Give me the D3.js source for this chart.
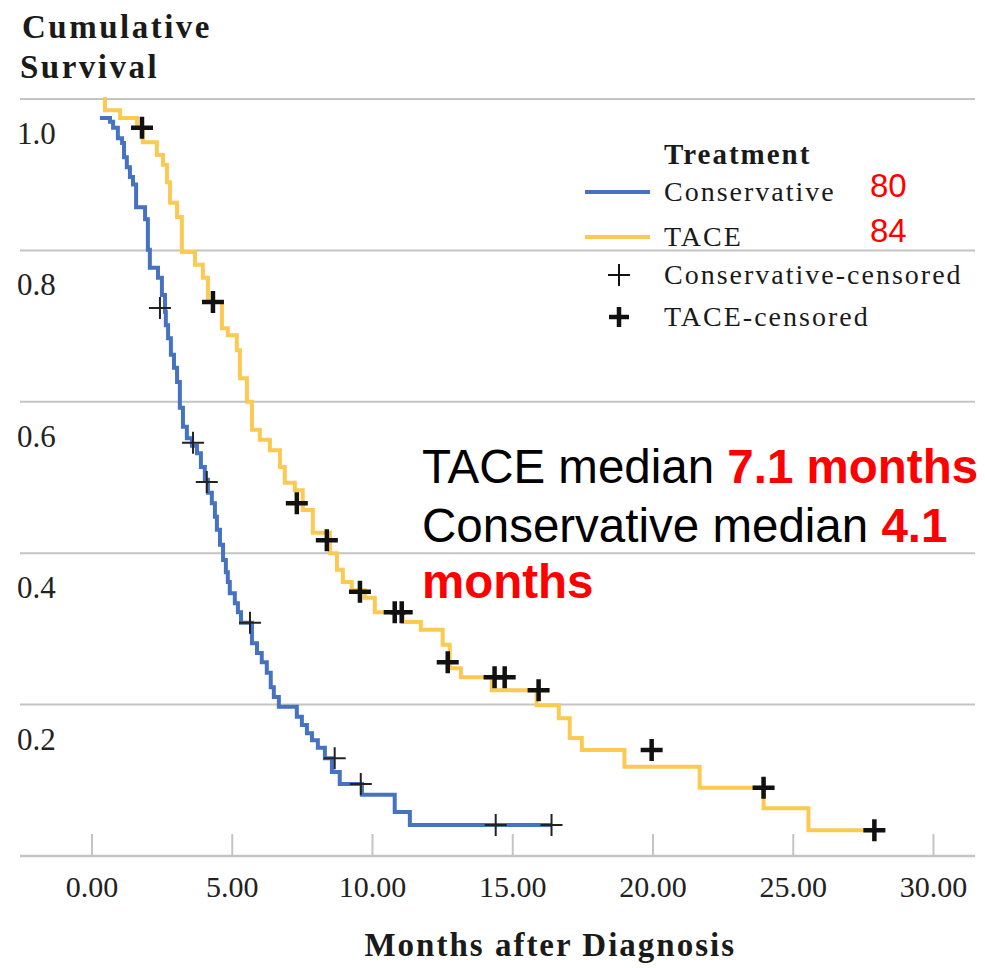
<!DOCTYPE html>
<html>
<head>
<meta charset="utf-8">
<script src="https://cdn.jsdelivr.net/npm/d3@7"></script>
<style>
  body { margin: 0; background: #fff; }
  svg { display: block; }
</style>
</head>
<body>
<div id="chart"></div>
<script>
// Kaplan-Meier steps: [months, survival after the step]
const conservativeSteps = [
    [0.30, 0.975], [0.66, 0.970], [0.77, 0.962], [0.94, 0.948], [1.09, 0.942],
    [1.16, 0.923], [1.26, 0.910], [1.37, 0.897], [1.48, 0.887], [1.59, 0.857],
    [1.91, 0.841], [2.01, 0.801], [2.08, 0.777], [2.37, 0.764], [2.51, 0.741],
    [2.62, 0.719], [2.65, 0.701], [2.73, 0.684], [2.83, 0.662], [2.94, 0.645],
    [3.05, 0.626], [3.15, 0.592], [3.26, 0.567], [3.40, 0.552], [3.58, 0.542],
    [3.76, 0.532], [3.90, 0.514], [4.04, 0.497], [4.15, 0.480], [4.29, 0.466],
    [4.40, 0.448], [4.47, 0.431], [4.58, 0.411], [4.69, 0.391], [4.79, 0.375],
    [4.86, 0.362], [4.93, 0.347], [5.11, 0.334], [5.22, 0.322], [5.33, 0.308],
    [5.72, 0.281], [5.90, 0.268], [6.07, 0.256], [6.25, 0.242], [6.39, 0.223],
    [6.50, 0.210], [6.68, 0.197], [7.32, 0.184], [7.50, 0.173], [7.68, 0.162],
    [7.86, 0.153], [8.07, 0.143], [8.32, 0.129], [8.57, 0.111], [8.85, 0.095],
    [9.64, 0.081], [10.81, 0.058], [11.35, 0.041], [16.40, 0.041]
];

const taceSteps = [
    [0.41, 1.000], [0.48, 0.985], [1.02, 0.975], [1.62, 0.962], [1.83, 0.943],
    [2.33, 0.926], [2.55, 0.913], [2.69, 0.890], [2.80, 0.863], [3.05, 0.844],
    [3.22, 0.798], [3.69, 0.781], [3.97, 0.764], [4.15, 0.732], [4.65, 0.697],
    [4.86, 0.688], [5.18, 0.668], [5.29, 0.631], [5.54, 0.600], [5.72, 0.563],
    [6.00, 0.550], [6.36, 0.536], [6.72, 0.514], [6.89, 0.493], [7.25, 0.483],
    [7.53, 0.457], [7.89, 0.427], [8.50, 0.400], [8.75, 0.378], [8.96, 0.362],
    [9.28, 0.351], [9.74, 0.341], [10.10, 0.322], [11.10, 0.309], [11.74, 0.299],
    [12.52, 0.279], [12.77, 0.248], [13.17, 0.236], [14.27, 0.219], [15.87, 0.199],
    [16.66, 0.182], [17.05, 0.156], [17.48, 0.140], [19.00, 0.118], [21.68, 0.090],
    [23.96, 0.063], [25.56, 0.034], [27.91, 0.034]
];

// Censored observations: [months, survival]
const conservativeCensored = [
    [2.44, 0.724], [3.62, 0.546], [4.11, 0.494], [5.65, 0.308],
    [8.67, 0.129], [9.60, 0.095], [14.41, 0.041], [16.40, 0.041]
];

const taceCensored = [
    [1.80, 0.962], [4.33, 0.732], [7.32, 0.466], [8.39, 0.417], [9.57, 0.349],
    [10.81, 0.322], [11.06, 0.322], [12.70, 0.256], [14.37, 0.236], [14.73, 0.236],
    [15.94, 0.219], [19.97, 0.140], [23.96, 0.090], [27.91, 0.034]
];

const xTicks = [0, 5, 10, 15, 20, 25, 30];
const yTicks = [0.2, 0.4, 0.6, 0.8, 1.0];
const groupNames = ["Conservative", "TACE"];
const groupCounts = ["80", "84"];
const censorNames = ["Conservative-censored", "TACE-censored"];

const width = 985, height = 968;
const blue = "#4672c2", yellow = "#fcc953", grid = "#c4c4c4";
const serif = "'Liberation Serif', 'Times New Roman', serif";
const sans = "'Liberation Sans', Arial, sans-serif";

const svg = d3.select("#chart")
    .append("svg")
    .attr("width", width)
    .attr("height", height);

const x = d3.scaleLinear().domain([0, 30]).range([91.5, 933]);
const y = d3.scaleLinear().domain([0, 1]).range([856, 99]);

// Horizontal gridlines (incl. baseline)
svg.append("g")
    .selectAll("line")
    .data([0].concat(yTicks))
    .join("line")
    .attr("x1", 20)
    .attr("x2", 975)
    .attr("y1", d => y(d))
    .attr("y2", d => y(d))
    .attr("stroke", grid)
    .attr("stroke-width", d => d === 0 ? 2.5 : 2);

// Y tick labels sit below their gridline
svg.append("g")
    .selectAll("text")
    .data(yTicks)
    .join("text")
    .attr("x", 17)
    .attr("y", d => y(d) + 45)
    .attr("font-family", serif)
    .attr("font-size", 31)
    .attr("fill", "#222")
    .text(d => d.toFixed(1));

// X axis: ticks point up into the plot
const xAxis = svg.append("g")
    .attr("transform", `translate(0,${y(0)})`)
    .call(d3.axisBottom(x)
        .tickValues(xTicks)
        .tickSize(-22)
        .tickPadding(20)
        .tickFormat(d => d.toFixed(2)));
xAxis.select(".domain").remove();
xAxis.selectAll("line").attr("stroke", grid).attr("stroke-width", 2);
xAxis.selectAll("text")
    .attr("font-family", serif)
    .attr("font-size", 30)
    .attr("fill", "#222");

// Axis titles
svg.append("text")
    .attr("x", 22).attr("y", 38)
    .attr("font-family", serif).attr("font-weight", "bold")
    .attr("font-size", 33).attr("letter-spacing", 2.5)
    .attr("fill", "#1a1a1a")
    .text("Cumulative");
svg.append("text")
    .attr("x", 20).attr("y", 78)
    .attr("font-family", serif).attr("font-weight", "bold")
    .attr("font-size", 33).attr("letter-spacing", 2.5)
    .attr("fill", "#1a1a1a")
    .text("Survival");
svg.append("text")
    .attr("x", (x(0) + x(30)) / 2 + 38).attr("y", 956)
    .attr("text-anchor", "middle")
    .attr("font-family", serif).attr("font-weight", "bold")
    .attr("font-size", 33).attr("letter-spacing", 2)
    .attr("fill", "#1a1a1a")
    .text("Months after Diagnosis");

// Survival curves
const line = d3.line()
    .x(d => x(d[0]))
    .y(d => y(d[1]))
    .curve(d3.curveStepAfter);

svg.append("path")
    .datum(conservativeSteps)
    .attr("d", line)
    .attr("fill", "none")
    .attr("stroke", blue)
    .attr("stroke-width", 4);

svg.append("path")
    .datum(taceSteps)
    .attr("d", line)
    .attr("fill", "none")
    .attr("stroke", yellow)
    .attr("stroke-width", 4);

// Censor marks
function plus(size) {
    return `M${-size},0H${size}M0,${-size}V${size}`;
}

svg.append("g")
    .selectAll("path")
    .data(conservativeCensored)
    .join("path")
    .attr("transform", d => `translate(${x(d[0])},${y(d[1])})`)
    .attr("d", plus(11))
    .attr("stroke", "#222")
    .attr("stroke-width", 2);

svg.append("g")
    .selectAll("path")
    .data(taceCensored)
    .join("path")
    .attr("transform", d => `translate(${x(d[0])},${y(d[1])})`)
    .attr("d", plus(11))
    .attr("stroke", "#111")
    .attr("stroke-width", 4.5);

// Legend
const legend = svg.append("g");
legend.append("text")
    .attr("x", 664).attr("y", 164)
    .attr("font-family", serif).attr("font-weight", "bold")
    .attr("font-size", 29).attr("letter-spacing", 2)
    .attr("fill", "#1a1a1a")
    .text("Treatment");

const legendRows = legend.selectAll("g.row")
    .data(groupNames)
    .join("g")
    .attr("class", "row")
    .attr("transform", (d, i) => `translate(0,${192 + i * 45})`);

legendRows.append("line")
    .attr("x1", 585).attr("x2", 650)
    .attr("stroke", (d, i) => i === 0 ? blue : yellow)
    .attr("stroke-width", 4);

legendRows.append("text")
    .attr("x", 664).attr("y", 9)
    .attr("font-family", serif).attr("font-size", 28)
    .attr("letter-spacing", 2).attr("fill", "#1a1a1a")
    .text(d => d);

legendRows.append("text")
    .attr("x", 870).attr("y", 5)
    .attr("font-family", sans).attr("font-size", 33)
    .attr("fill", "#ff0000")
    .text((d, i) => groupCounts[i]);

const censorRows = legend.selectAll("g.crow")
    .data(censorNames)
    .join("g")
    .attr("class", "crow")
    .attr("transform", (d, i) => `translate(0,${275 + i * 42})`);

censorRows.append("path")
    .attr("transform", "translate(619,0)")
    .attr("d", (d, i) => plus(i === 0 ? 11 : 10))
    .attr("stroke", "#111")
    .attr("stroke-width", (d, i) => i === 0 ? 2 : 4.5);

censorRows.append("text")
    .attr("x", 664).attr("y", 9)
    .attr("font-family", serif).attr("font-size", 28)
    .attr("letter-spacing", 2).attr("fill", "#1a1a1a")
    .text(d => d);

// Median annotation
const note = svg.append("text")
    .attr("font-family", sans)
    .attr("font-size", 47.5)
    .attr("fill", "#000");

const l1 = note.append("tspan").attr("x", 422).attr("y", 483);
l1.append("tspan").text("TACE median ");
l1.append("tspan").attr("fill", "#ff0000").attr("font-weight", "bold").text("7.1 months");

const l2 = note.append("tspan").attr("x", 422).attr("y", 542);
l2.append("tspan").text("Conservative median ");
l2.append("tspan").attr("fill", "#ff0000").attr("font-weight", "bold").text("4.1");

note.append("tspan")
    .attr("x", 422).attr("y", 598)
    .attr("fill", "#ff0000").attr("font-weight", "bold")
    .text("months");
</script>
</body>
</html>
